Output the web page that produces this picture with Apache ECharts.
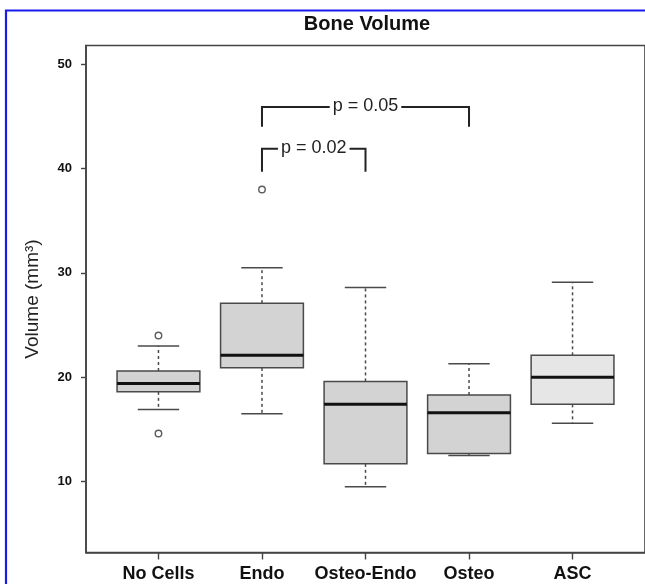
<!DOCTYPE html>
<html>
<head>
<meta charset="utf-8">
<script src="https://cdn.jsdelivr.net/npm/echarts@6/dist/echarts.min.js"></script>
<style>
html,body{margin:0;padding:0;background:#fff;}
#chart{width:645px;height:584px;}
</style>
</head>
<body>
<div id="chart"></div>
<script>
// ---- data ----
const categories = ['No Cells', 'Endo', 'Osteo-Endo', 'Osteo', 'ASC'];
const whiskerLow  = [16.9, 16.5,  9.5, 12.5, 15.6];
const quartile1   = [18.6, 20.9, 11.7, 12.7, 17.4];
const medians     = [19.4, 22.1, 17.4, 16.6, 20.0];
const quartile3   = [20.6, 27.1, 19.6, 18.3, 22.1];
const whiskerHigh = [23.0, 30.5, 28.6, 21.3, 29.1];
const outlierGroup = ['No Cells', 'No Cells', 'Endo'];
const outlierValue = [24.0, 14.6, 38.0];
const bracketFrom   = ['Endo', 'Endo'];
const bracketTo     = ['Osteo', 'Osteo-Endo'];
const bracketTop    = [45.9, 41.9];
const bracketBottom = [44.0, 39.7];
const bracketLabel  = ['p = 0.05', 'p = 0.02'];
const yTicks = [10, 20, 30, 40, 50];
const xTicks = [1, 2, 3, 4, 5];

// ---- styles ----
const boxFills = ['#d3d3d3', '#d3d3d3', '#d3d3d3', '#d3d3d3', '#e6e6e6'];
const lineColor = '#4a4a4a';
const FONT = '"Liberation Sans", Arial, sans-serif';

const boxData = categories.map((c, i) => [i + 1, whiskerLow[i], quartile1[i], medians[i], quartile3[i], whiskerHigh[i]]);
const outlierData = outlierGroup.map((g, i) => [categories.indexOf(g) + 1, outlierValue[i]]);
const bracketData = bracketFrom.map((f, i) => [categories.indexOf(f) + 1, categories.indexOf(bracketTo[i]) + 1, bracketTop[i], bracketBottom[i], i]);

const chart = echarts.init(document.getElementById('chart'), null, {renderer: 'canvas'});
chart.setOption({
  animation: false,
  backgroundColor: '#fff',
  graphic: [
    {
      type: 'rect', silent: true,
      shape: {x: 6, y: 10.5, width: 800, height: 800},
      style: {fill: null, stroke: '#1a1aee', lineWidth: 2.2}
    },
    {
      type: 'text', silent: true, x: 367, y: 24,
      style: {text: 'Bone Volume', align: 'center', verticalAlign: 'middle',
        font: 'bold 20px ' + FONT, fill: '#111'}
    }
  ],
  grid: {
    left: 86, top: 45.5, width: 561.6, height: 507,
    show: true, borderColor: '#444', borderWidth: 1.6, backgroundColor: 'transparent'
  },
  xAxis: {
    type: 'value', min: 0.3, max: 5.7,
    splitLine: {show: false},
    axisLine: {show: true, lineStyle: {color: '#444', width: 1.6}},
    axisTick: {show: true, customValues: xTicks, length: 7, lineStyle: {color: '#444', width: 1.4}},
    axisLabel: {
      customValues: xTicks, margin: 13,
      formatter: v => categories[Math.round(v) - 1],
      fontFamily: FONT, fontWeight: 'bold', fontSize: 18, color: '#111'
    }
  },
  yAxis: {
    type: 'value', min: 3.2, max: 51.8,
    name: 'Volume (mm³)', nameLocation: 'middle', nameGap: 44,
    nameTextStyle: {fontFamily: FONT, fontSize: 19, color: '#222'},
    splitLine: {show: false},
    axisLine: {show: true, lineStyle: {color: '#444', width: 1.6}},
    axisTick: {show: true, customValues: yTicks, length: 5, lineStyle: {color: '#444', width: 1.4}},
    axisLabel: {
      customValues: yTicks, margin: 14,
      fontFamily: FONT, fontWeight: 'bold', fontSize: 13, color: '#111'
    }
  },
  series: [
    {
      type: 'custom',
      data: boxData,
      encode: {x: 0, y: [1, 2, 3, 4, 5]},
      renderItem: function (params, api) {
        const x = api.value(0);
        const lo = api.coord([x, api.value(1)]);
        const q1 = api.coord([x, api.value(2)]);
        const md = api.coord([x, api.value(3)]);
        const q3 = api.coord([x, api.value(4)]);
        const hi = api.coord([x, api.value(5)]);
        const cx = lo[0];
        const hb = api.size([0.8, 0])[0] / 2;
        const hc = api.size([0.4, 0])[0] / 2;
        const dash = {stroke: lineColor, lineWidth: 1.5, lineDash: [3, 3]};
        const solid = {stroke: lineColor, lineWidth: 1.5};
        return {
          type: 'group',
          children: [
            {type: 'line', shape: {x1: cx, y1: q3[1], x2: cx, y2: hi[1]}, style: dash},
            {type: 'line', shape: {x1: cx, y1: q1[1], x2: cx, y2: lo[1]}, style: dash},
            {type: 'line', shape: {x1: cx - hc, y1: hi[1], x2: cx + hc, y2: hi[1]}, style: solid},
            {type: 'line', shape: {x1: cx - hc, y1: lo[1], x2: cx + hc, y2: lo[1]}, style: solid},
            {type: 'rect', shape: {x: cx - hb, y: q3[1], width: 2 * hb, height: q1[1] - q3[1]},
              style: {fill: boxFills[params.dataIndex], stroke: lineColor, lineWidth: 1.5}},
            {type: 'line', shape: {x1: cx - hb, y1: md[1], x2: cx + hb, y2: md[1]},
              style: {stroke: '#111', lineWidth: 3}}
          ]
        };
      }
    },
    {
      type: 'scatter',
      data: outlierData,
      symbol: 'circle', symbolSize: 6.5,
      itemStyle: {color: '#fff', borderColor: '#333', borderWidth: 1.4}
    },
    {
      type: 'custom',
      data: bracketData,
      encode: {x: [0, 1], y: [2, 3]},
      renderItem: function (params, api) {
        const x1 = api.value(0), x2 = api.value(1);
        const top = api.value(2), bot = api.value(3);
        const a = api.coord([x1, bot]);
        const b = api.coord([x1, top]);
        const c = api.coord([x2, top]);
        const d = api.coord([x2, bot]);
        const m = api.coord([(x1 + x2) / 2, top]);
        return {
          type: 'group',
          children: [
            {type: 'polyline', shape: {points: [a, b, c, d]},
              style: {fill: null, stroke: '#222', lineWidth: 2}},
            {type: 'text', x: m[0], y: m[1] - 1,
              style: {text: bracketLabel[api.value(4)], align: 'center', verticalAlign: 'middle',
                fill: '#222', font: '18px ' + FONT,
                backgroundColor: '#fff', padding: [0, 3]}}
          ]
        };
      }
    }
  ]
});
</script>
</body>
</html>
